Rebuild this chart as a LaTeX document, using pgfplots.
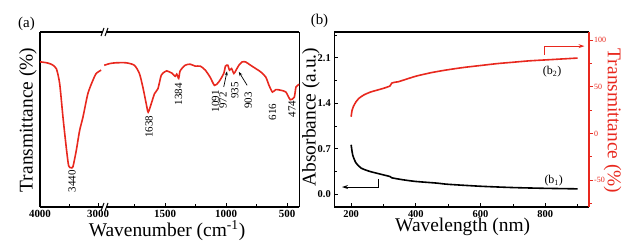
\documentclass[border=0pt]{standalone}
\usepackage{fontspec}
\setmainfont{Liberation Serif}
\usepackage{pgfplots}
\pgfplotsset{compat=1.18}
\usetikzlibrary{arrows.meta}
\definecolor{myred}{RGB}{232,40,30}

\pgfplotstableread{
w v
4000 83.0
3988 82.9
3900 82.5
3806 81.6
3720 79.1
3662 70.5
3605 51.3
3549 34.1
3508 23.6
3470 22.5
3434 23.0
3377 32.2
3319 43.7
3262 51.3
3177 64.8
3091 72.4
3034 76.3
2949 78.2
}\ftirleft

\pgfplotstableread{
w v
1998 81.0
1950 82.0
1902 82.4
1819 82.4
1751 81.0
1710 76.3
1682 68.6
1654 59.0
1638 54.2
1613 59.0
1586 64.8
1558 67.6
1531 75.3
1503 77.2
1487 77.8
1446 76.6
1417 74.7
1404 75.9
1388 73.5
1376 77.8
1335 81.0
1294 81.6
1252 80.5
1211 80.5
1170 78.2
1129 74.0
1095 69.5
1060 71.4
1019 76.3
1005 80.5
986 81.0
972 78.2
955 79.1
936 76.3
918 78.2
895 81.0
868 82.9
840 82.9
799 81.0
757 79.1
716 77.2
675 74.3
648 69.5
620 65.7
592 67.1
551 66.7
510 65.7
474 61.3
441 62.8
427 68.6
400 70.1
}\ftirright

\pgfplotstableread{
l A
200 0.76
205 0.60
215 0.48
231 0.40
257 0.35
288 0.31
320 0.27
326 0.25
360 0.22
400 0.194
464 0.169
500 0.15
600 0.12
700 0.10
800 0.088
900 0.08
}\absb

\pgfplotstableread{
l T
200 18
203 25
207 29
215 34
225 38
240 41.5
260 44.5
280 46.5
300 48.5
320 51
325 54
335 55
345 55.5
350 56
400 61.5
450 65.5
500 68.5
550 71
600 73
650 75
700 76.5
750 78
800 79
850 80
900 81
}\transb

\pgfplotsset{
  common/.style={
    scale only axis, height=175bp,
    axis line style={line width=1.2bp,-},
    tick style={line width=0.9bp, black},
    major tick length=4bp, minor tick length=2.5bp,
    /pgf/number format/assume math mode=true,
    /pgf/number format/1000 sep={},
    ticklabel style={font=\fontsize{11}{12}\selectfont\bfseries},
  },
}
\tikzset{ann/.style={font=\fontsize{11}{12}\selectfont, rotate=90, anchor=east, inner sep=0pt}}

\begin{document}
\begin{tikzpicture}
\path[use as bounding box] (0bp,0bp) rectangle (636bp,247bp);

% ---------- panel (a), left segment ----------
\begin{axis}[common, at={(40bp,40bp)}, anchor=south west, width=64bp,
  xmin=2900, xmax=4000, x dir=reverse, ymin=0, ymax=100,
  axis x line*=box, axis y line*=left,
  ytick=\empty, xtick={3000,4000}, minor xtick={3500},
  xtick pos=left, tick align=inside]
\addplot[myred, line width=1.6bp, smooth, tension=0.4] table[x=w,y=v] {\ftirleft};
\node[ann] at (axis cs:3450,21) {3440};
\end{axis}

% ---------- panel (a), right segment ----------
\begin{axis}[common, at={(104bp,40bp)}, anchor=south west, width=195.3bp,
  xmin=400, xmax=2000, x dir=reverse, ymin=0, ymax=100,
  axis x line*=box, axis y line*=right,
  ytick=\empty, xtick={500,1000,1500}, minor xtick={750,1250,1750},
  xtick pos=left, tick align=inside]
\addplot[myred, line width=1.6bp, smooth, tension=0.4] table[x=w,y=v] {\ftirright};
\node[ann] at (axis cs:1632,52.3) {1638};
\node[ann] at (axis cs:1390,70.7) {1384};
\node[ann] at (axis cs:1087,66.7) {1091};
\node[ann] at (axis cs:1025,65.7) {972};
\node[ann] at (axis cs:928,71.4) {935};
\node[ann] at (axis cs:818,65.7) {903};
\node[ann] at (axis cs:620,59.2) {616};
\node[ann] at (axis cs:460,60.9) {474};
\draw[line width=0.7bp, -{Stealth[length=4bp,width=3bp]}] (axis cs:1019,68.6) -- (axis cs:992,77.5);
\draw[line width=0.7bp, -{Stealth[length=4bp,width=3bp]}] (axis cs:827,69.5) -- (axis cs:895,77.2);
\end{axis}

% break marks
\foreach \yy in {40,215}{
  \fill[white] (101.5bp,\yy bp-4bp) -- (104.5bp,\yy bp+4bp) -- (108bp,\yy bp+4bp) -- (105bp,\yy bp-4bp) -- cycle;
  \draw[line width=1bp] (101bp,\yy bp-4bp) -- (104bp,\yy bp+4bp);
  \draw[line width=1bp] (105bp,\yy bp-4bp) -- (108bp,\yy bp+4bp);
}

\node[font=\fontsize{15}{17}\selectfont] at (26.5bp,223bp) {(a)};
\node[font=\fontsize{19.5}{22}\selectfont, anchor=base] at (167bp,10.3bp) {Wavenumber (cm\textsuperscript{-1})};
\node[font=\fontsize{19.5}{22}\selectfont, rotate=90] at (28bp,127bp) {Transmittance (\%)};

% ---------- panel (b), absorbance ----------
\begin{axis}[common, at={(334.3bp,40bp)}, anchor=south west, width=254.7bp,
  xmin=148, xmax=935, ymin=-0.2, ymax=2.5,
  axis x line*=box, axis y line*=left,
  xtick={200,400,600,800}, minor xtick={300,500,700,900},
  ytick={0,0.7,1.4,2.1}, minor ytick={0.35,1.05,1.75,2.45},
  xtick pos=left, ytick pos=left, tick align=inside,
  yticklabel style={/pgf/number format/.cd, fixed, fixed zerofill, precision=1},
  ticklabel style={font=\fontsize{10.5}{12}\selectfont\bfseries}]
\addplot[black, line width=1.6bp, smooth, tension=0.4] table[x=l,y=A] {\absb};
\draw[line width=1bp, -{Stealth[length=6bp,width=4bp]}] (axis cs:286,0.23) -- (axis cs:286,0.108) -- (axis cs:172,0.108);
\node[font=\fontsize{12}{14}\selectfont] at (axis cs:826,0.21) {(b\textsubscript{1})};
\end{axis}

% ---------- panel (b), transmittance ----------
\begin{axis}[common, at={(334.3bp,40bp)}, anchor=south west, width=254.7bp,
  xmin=148, xmax=935, ymin=-79, ymax=109,
  axis x line=none, axis y line*=right, xtick=\empty,
  ytick={-50,0,50,100}, minor ytick={-75,-25,25,75},
  ytick pos=right, tick align=outside,
  y axis line style={draw=myred},
  tick style={myred},
  yticklabel style={myred, font=\fontsize{8}{9}\selectfont, inner sep=1bp}]
\addplot[myred, line width=1.6bp, smooth, tension=0.4] table[x=l,y=T] {\transb};
\draw[myred, line width=1bp, -{Stealth[length=6bp,width=4bp]}] (axis cs:798,84.6) -- (axis cs:798,93.8) -- (axis cs:921,93.8);
\node[font=\fontsize{12}{14}\selectfont] at (axis cs:821,66) {(b\textsubscript{2})};
\end{axis}

\node[font=\fontsize{15}{17}\selectfont] at (319.5bp,226bp) {(b)};
\node[font=\fontsize{19.5}{22}\selectfont, anchor=base] at (462.7bp,15.3bp) {Wavelength (nm)};
\node[font=\fontsize{19.5}{22}\selectfont, rotate=90] at (311bp,130bp) {Absorbance (a.u.)};
\node[font=\fontsize{19.5}{22}\selectfont, rotate=-90, text=myred] at (612.5bp,126bp) {Transmittance (\%)};
\end{tikzpicture}
\end{document}
